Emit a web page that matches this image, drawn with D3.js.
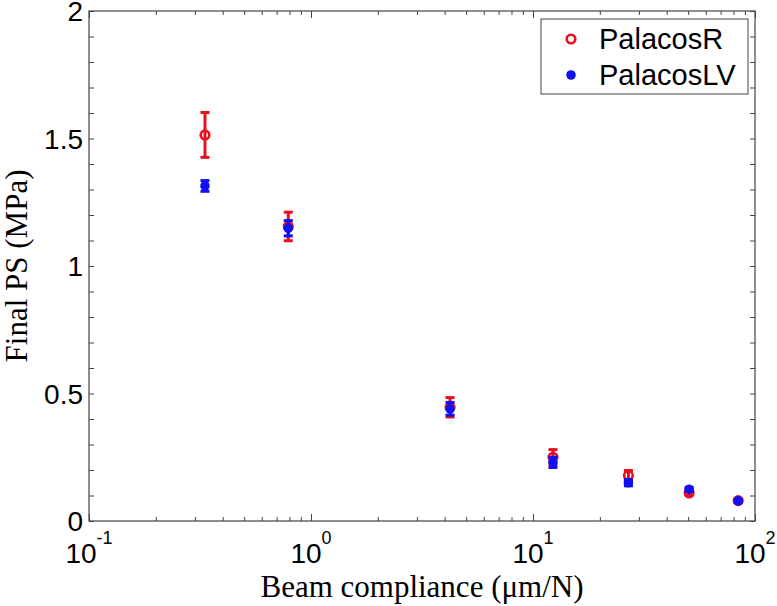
<!DOCTYPE html>
<html>
<head>
<meta charset="utf-8">
<script src="https://cdn.jsdelivr.net/npm/d3@7"></script>
<style>
  body { margin: 0; background: #fff; }
  svg { display: block; }
</style>
</head>
<body>
<div id="chart"></div>
<script>
// data
const compliance = [0.333, 0.79, 4.23, 12.3, 26.9, 50.5, 84];
const palacosR = [1.514, 1.155, 0.446, 0.250, 0.178, 0.110, 0.080];
const palacosRErr = [0.088, 0.056, 0.038, 0.030, 0.020, 0.008, 0.006];
const palacosLV = [1.314, 1.148, 0.440, 0.230, 0.150, 0.124, 0.079];
const palacosLVErr = [0.021, 0.030, 0.025, 0.020, 0.012, 0.008, 0.005];
const seriesNames = ['PalacosR', 'PalacosLV'];
const xExponents = [-1, 0, 1, 2];
const yTickLabels = [0, 0.5, 1, 1.5, 2];

const W = 777, H = 606;
const plotL = 89, plotR = 755, plotT = 11, plotB = 521;
const RED = '#e8101a', BLUE = '#1010f0', AXIS = '#444';
const sans = '"Liberation Sans", Arial, sans-serif';
const serif = '"Liberation Serif", "Times New Roman", serif';

const svg = d3.select('#chart').append('svg')
  .attr('width', W)
  .attr('height', H);

const x = d3.scaleLog().domain([0.1, 100]).range([plotL, plotR]);
const y = d3.scaleLinear().domain([0, 2]).range([plotB, plotT]);

// ticks
const logTicks = x.ticks();
const isMajor = d => Math.abs(Math.log10(d) - Math.round(Math.log10(d))) < 1e-9;
const minorX = logTicks.filter(d => !isMajor(d));
const majorX = logTicks.filter(isMajor);
const yTicks = y.ticks(20);

function styleAxis(g) {
  g.select('.domain').remove();
  g.selectAll('line').attr('stroke', AXIS).attr('stroke-width', 1);
  g.selectAll('text').remove();
}

svg.append('g').attr('transform', 'translate(0,' + plotB + ')')
  .call(d3.axisBottom(x).tickValues(minorX).tickSize(-4)).call(styleAxis);
svg.append('g').attr('transform', 'translate(0,' + plotB + ')')
  .call(d3.axisBottom(x).tickValues(majorX).tickSize(-7)).call(styleAxis);
svg.append('g').attr('transform', 'translate(0,' + plotT + ')')
  .call(d3.axisTop(x).tickValues(minorX).tickSize(-4)).call(styleAxis);
svg.append('g').attr('transform', 'translate(0,' + plotT + ')')
  .call(d3.axisTop(x).tickValues(majorX).tickSize(-7)).call(styleAxis);
svg.append('g').attr('transform', 'translate(' + plotL + ',0)')
  .call(d3.axisLeft(y).tickValues(yTicks).tickSize(-5)).call(styleAxis);
svg.append('g').attr('transform', 'translate(' + plotR + ',0)')
  .call(d3.axisRight(y).tickValues(yTicks).tickSize(-5)).call(styleAxis);

// frame
svg.append('rect')
  .attr('x', plotL).attr('y', plotT)
  .attr('width', plotR - plotL).attr('height', plotB - plotT)
  .attr('fill', 'none').attr('stroke', AXIS).attr('stroke-width', 1.2);

// y tick labels
svg.selectAll('.ylab').data(yTickLabels).join('text')
  .attr('class', 'ylab')
  .attr('x', plotL - 6)
  .attr('y', d => y(d))
  .attr('dy', '0.36em')
  .attr('text-anchor', 'end')
  .style('font-family', sans)
  .style('font-size', '28px')
  .text(d3.format('~g'));

// x tick labels 10^n
const xl = svg.selectAll('.xlab').data(xExponents).join('text')
  .attr('class', 'xlab')
  .attr('x', d => x(Math.pow(10, d)))
  .attr('y', 562.5)
  .attr('text-anchor', 'middle')
  .style('font-family', sans)
  .style('font-size', '28px');
xl.append('tspan').text('10');
xl.append('tspan')
  .attr('dy', -19)
  .style('font-size', '18px')
  .text(d => d);

// axis titles
svg.append('text')
  .attr('x', (plotL + plotR) / 2)
  .attr('y', 597)
  .attr('text-anchor', 'middle')
  .style('font-family', serif)
  .style('font-size', '31px')
  .text('Beam compliance (\u03bcm/N)');

svg.append('text')
  .attr('transform', 'translate(27,' + ((plotT + plotB) / 2) + ') rotate(-90)')
  .attr('text-anchor', 'middle')
  .style('font-family', serif)
  .style('font-size', '31px')
  .text('Final PS (MPa)');

// error bars + markers
function drawSeries(vals, errs, color, filled) {
  const g = svg.append('g');
  const pts = compliance.map((c, i) => ({ c: c, v: vals[i], e: errs[i] }));
  g.selectAll('.eb').data(pts).join('line')
    .attr('class', 'eb')
    .attr('x1', d => x(d.c)).attr('x2', d => x(d.c))
    .attr('y1', d => y(d.v - d.e)).attr('y2', d => y(d.v + d.e))
    .attr('stroke', color).attr('stroke-width', 3);
  [-1, 1].forEach(s => {
    g.selectAll('.cap' + (s + 1)).data(pts).join('line')
      .attr('class', 'cap' + (s + 1))
      .attr('x1', d => x(d.c) - 4.5).attr('x2', d => x(d.c) + 4.5)
      .attr('y1', d => y(d.v + s * d.e)).attr('y2', d => y(d.v + s * d.e))
      .attr('stroke', color).attr('stroke-width', 3);
  });
  g.selectAll('circle').data(pts).join('circle')
    .attr('cx', d => x(d.c)).attr('cy', d => y(d.v))
    .attr('r', filled ? 4.8 : 4.3)
    .attr('fill', filled ? color : 'none')
    .attr('stroke', color)
    .attr('stroke-width', filled ? 0 : 2.6);
}
drawSeries(palacosR, palacosRErr, RED, false);
drawSeries(palacosLV, palacosLVErr, BLUE, true);

// legend
const lg = svg.append('g');
lg.append('rect')
  .attr('x', 541).attr('y', 19).attr('width', 207).attr('height', 75)
  .attr('fill', '#fff').attr('stroke', AXIS).attr('stroke-width', 1);
const legendRows = [
  { name: seriesNames[0], color: RED, filled: false, cy: 39 },
  { name: seriesNames[1], color: BLUE, filled: true, cy: 75 }
];
legendRows.forEach(r => {
  lg.append('circle')
    .attr('cx', 571).attr('cy', r.cy)
    .attr('r', r.filled ? 4.8 : 4.3)
    .attr('fill', r.filled ? r.color : 'none')
    .attr('stroke', r.color)
    .attr('stroke-width', r.filled ? 0 : 2.6);
  lg.append('text')
    .attr('x', 599).attr('y', r.cy)
    .attr('dy', '0.36em')
    .style('font-family', sans)
    .style('font-size', '29px')
    .text(r.name);
});
</script>
</body>
</html>
